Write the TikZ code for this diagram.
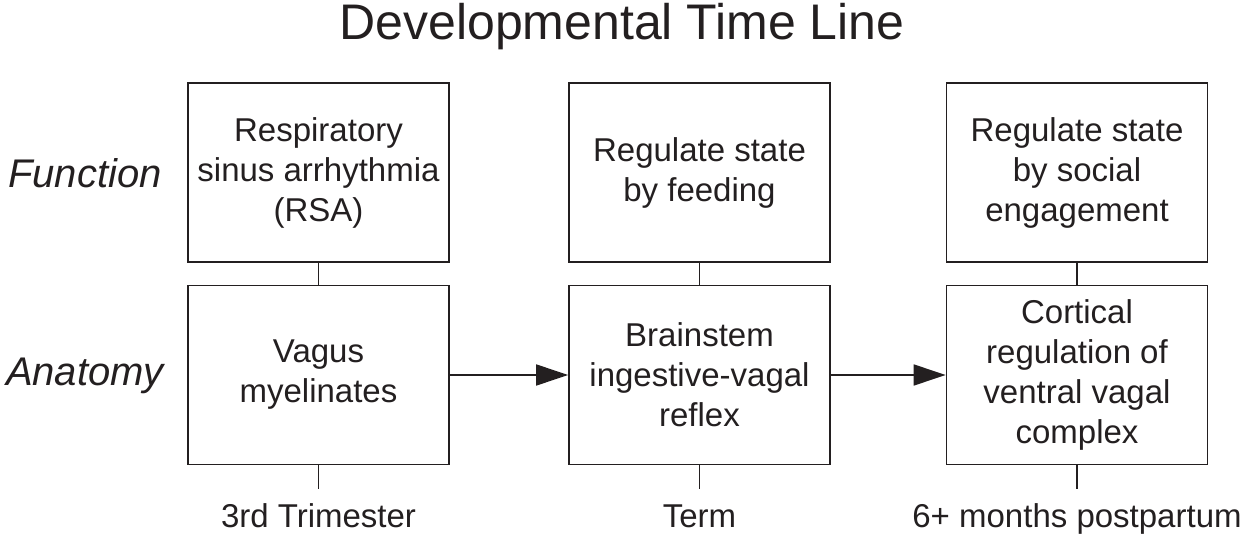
\documentclass[tikz,border=0pt]{standalone}
\usepackage{fontspec}
\setmainfont{Liberation Sans}
\usetikzlibrary{arrows.meta}
\definecolor{ink}{HTML}{231F20}
\begin{document}
\begin{tikzpicture}[x=1pt,y=-1pt,
  every node/.style={text=ink},
  box/.style={draw=ink,line width=1.8pt,minimum width=261pt,minimum height=179pt,
    inner sep=0pt,align=center,font=\fontsize{33}{40}\selectfont},
  link/.style={draw=ink,line width=1.8pt},
  flow/.style={draw=ink,line width=1.8pt,-{Triangle[length=32pt,width=21pt]}},
  rowlabel/.style={font=\fontsize{40}{46}\selectfont\itshape,anchor=base},
  stage/.style={font=\fontsize{33}{40}\selectfont,anchor=base}]
\useasboundingbox (0,0) rectangle (1242,534);
\node[anchor=base,font=\fontsize{50}{56}\selectfont] (title) at (622,40) {Developmental Time Line};
\node[rowlabel] (fun) at (85,188) {Function};
\node[rowlabel] (ana) at (85,385) {Anatomy};
\node[box] (f1) at (318.5,172.5) {Respiratory\\sinus arrhythmia\\(RSA)};
\node[box] (f2) at (699.5,172.5) {Regulate state\\by feeding};
\node[box] (f3) at (1077,172.5) {Regulate state\\by social\\engagement};
\node[box] (a1) at (318.5,375) {Vagus\\myelinates};
\node[box] (a2) at (699.5,375) {Brainstem\\ingestive-vagal\\reflex};
\node[box] (a3) at (1077,375) {Cortical\\regulation of\\ventral vagal\\complex};
\coordinate (t1) at (318.5,489);
\coordinate (t2) at (699.5,489);
\coordinate (t3) at (1077,489);
\node[stage] (s1) at (318.5,527) {3rd Trimester};
\node[stage] (s2) at (699.5,527) {Term};
\node[stage] (s3) at (1077,527) {6+ months postpartum};
\draw[link] (f1) -- (a1);
\draw[link] (f2) -- (a2);
\draw[link] (f3) -- (a3);
\draw[link] (a1.south) -- (t1);
\draw[link] (a2.south) -- (t2);
\draw[link] (a3.south) -- (t3);
\draw[flow] (a1.east) -- (a2.west);
\draw[flow] (a2.east) -- (a3.west);
\end{tikzpicture}
\end{document}
